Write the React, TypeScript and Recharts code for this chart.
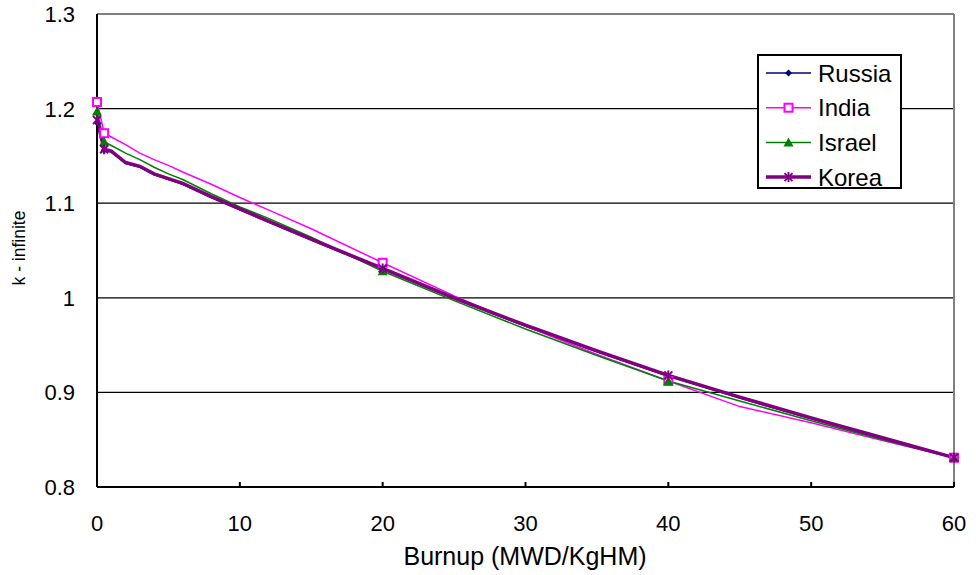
import React from "react";
import {
  LineChart,
  Line,
  XAxis,
  YAxis,
  ReferenceLine,
  Legend,
} from "recharts";

// burnup grid (MWD/KgHM)
const burnup = [0, 0.5, 1, 2, 3, 4, 5, 6, 8, 10, 12, 15, 20, 25, 30, 35, 40, 45, 50, 55, 60];
// points that carry a marker
const markerBurnups = [0, 0.5, 20, 40, 60];

const russia = [1.185, 1.156, 1.154, 1.142, 1.138, 1.13, 1.125, 1.12, 1.106, 1.093, 1.08, 1.061, 1.03, 0.999, 0.97, 0.943, 0.917, 0.894, 0.872, 0.851, 0.831];
const india = [1.207, 1.174, 1.17, 1.162, 1.153, 1.146, 1.14, 1.133, 1.12, 1.106, 1.093, 1.073, 1.037, 1.002, 0.97, 0.94, 0.912, 0.885, 0.868, 0.849, 0.831];
const israel = [1.197, 1.165, 1.161, 1.153, 1.146, 1.138, 1.131, 1.125, 1.11, 1.096, 1.084, 1.064, 1.028, 0.997, 0.967, 0.939, 0.912, 0.891, 0.87, 0.85, 0.831];
const korea = [1.188, 1.157, 1.155, 1.143, 1.139, 1.131, 1.126, 1.121, 1.107, 1.094, 1.081, 1.062, 1.031, 1.0, 0.971, 0.944, 0.918, 0.895, 0.873, 0.852, 0.831];

const xTicks = [0, 10, 20, 30, 40, 50, 60];
const yTicks = [0.8, 0.9, 1, 1.1, 1.2, 1.3];
const gridValues = [0.9, 1, 1.1, 1.2];

const data = burnup.map((b, i) => ({
  burnup: b,
  Russia: russia[i],
  India: india[i],
  Israel: israel[i],
  Korea: korea[i],
}));

type Shape = "diamond" | "square" | "triangle" | "star";

const series: { key: string; color: string; width: number; shape: Shape }[] = [
  { key: "Russia", color: "#000080", width: 1.5, shape: "diamond" },
  { key: "India", color: "#FF00FF", width: 1.5, shape: "square" },
  { key: "Israel", color: "#008000", width: 1.5, shape: "triangle" },
  { key: "Korea", color: "#800080", width: 3.5, shape: "star" },
];

const FONT = "Liberation Sans, Arial, sans-serif";

const Marker = ({ cx, cy, shape, color }: { cx: number; cy: number; shape: Shape; color: string }) => {
  if (shape === "diamond")
    return <polygon points={`${cx},${cy - 3.5} ${cx + 3.5},${cy} ${cx},${cy + 3.5} ${cx - 3.5},${cy}`} fill={color} />;
  if (shape === "square")
    return <rect x={cx - 4} y={cy - 4} width={8} height={8} fill="#fff" stroke={color} strokeWidth={2} />;
  if (shape === "triangle")
    return <polygon points={`${cx},${cy - 5} ${cx + 5},${cy + 4} ${cx - 5},${cy + 4}`} fill={color} />;
  return (
    <g stroke={color} strokeWidth={2}>
      <line x1={cx - 4} y1={cy - 4} x2={cx + 4} y2={cy + 4} />
      <line x1={cx - 4} y1={cy + 4} x2={cx + 4} y2={cy - 4} />
      <line x1={cx} y1={cy - 5} x2={cx} y2={cy + 5} />
    </g>
  );
};

const dotFor = (shape: Shape, color: string) => (props: any) => {
  const { cx, cy, payload, index } = props;
  if (!markerBurnups.includes(payload.burnup)) return <g key={`d-${index}`} />;
  return (
    <g key={`d-${index}`}>
      <Marker cx={cx} cy={cy} shape={shape} color={color} />
    </g>
  );
};

const XTick = (props: any) => {
  const { x, y, payload } = props;
  return (
    <g>
      <line x1={x} y1={y} x2={x} y2={y - 5} stroke="#000" strokeWidth={2} />
      <text x={x} y={y + 44} textAnchor="middle" fontSize={22} fontFamily={FONT} fill="#000">
        {payload.value}
      </text>
    </g>
  );
};

const YTick = (props: any) => {
  const { x, y, payload } = props;
  return (
    <text x={x - 22} y={y + 8} textAnchor="end" fontSize={22} fontFamily={FONT} fill="#000">
      {payload.value}
    </text>
  );
};

const LegendBox = () => (
  <svg width={145} height={142} style={{ display: "block", overflow: "visible" }}>
    <rect x={1} y={1} width={143} height={133} fill="#fff" stroke="#000" strokeWidth={2} />
    {series.map((s, i) => {
      const cy = 19 + i * 34.7;
      return (
        <g key={s.key}>
          <line x1={9} y1={cy} x2={54} y2={cy} stroke={s.color} strokeWidth={s.width} />
          <Marker cx={31.5} cy={cy} shape={s.shape} color={s.color} />
          <text x={61} y={cy + 8.5} fontSize={24} fontFamily={FONT} fill="#000">
            {s.key}
          </text>
        </g>
      );
    })}
  </svg>
);

export default function App() {
  return (
    <div style={{ position: "absolute", left: 0, top: 0, background: "#fff" }}>
      <LineChart
        width={976}
        height={575}
        data={data}
        margin={{ top: 14, right: 22, bottom: 38, left: 37 }}
      >
        <XAxis
          dataKey="burnup"
          type="number"
          domain={[0, 60]}
          ticks={xTicks}
          height={50}
          axisLine={{ stroke: "#000", strokeWidth: 2 }}
          tickLine={false}
          tickSize={0}
          tickMargin={0}
          tick={<XTick />}
          label={{
            content: () => (
              <text x={525} y={565} textAnchor="middle" fontSize={25} fontFamily={FONT} fill="#000">
                Burnup (MWD/KgHM)
              </text>
            ),
          }}
        />
        <YAxis
          type="number"
          domain={[0.8, 1.3]}
          ticks={yTicks}
          width={60}
          axisLine={{ stroke: "#000", strokeWidth: 2 }}
          tickLine={false}
          tickSize={0}
          tickMargin={0}
          tick={<YTick />}
          label={{
            content: () => (
              <text
                x={25}
                y={248}
                transform="rotate(-90 25 248)"
                textAnchor="middle"
                fontSize={17.5}
                fontFamily={FONT}
                fill="#000"
              >
                k - infinite
              </text>
            ),
          }}
        />
        {gridValues.map((v) => (
          <ReferenceLine key={v} y={v} stroke="#000" strokeWidth={1.2} />
        ))}
        <ReferenceLine y={1.3} stroke="#808080" strokeWidth={2} />
        <ReferenceLine x={60} stroke="#808080" strokeWidth={2} />
        <Legend
          layout="vertical"
          align="center"
          verticalAlign="middle"
          wrapperStyle={{ left: 757, top: 54, width: 145, height: 142 }}
          content={() => <LegendBox />}
        />
        {series.map((s) => (
          <Line
            key={s.key}
            type="linear"
            dataKey={s.key}
            stroke={s.color}
            strokeWidth={s.width}
            dot={dotFor(s.shape, s.color)}
            activeDot={false}
            isAnimationActive={false}
          />
        ))}
      </LineChart>
    </div>
  );
}
